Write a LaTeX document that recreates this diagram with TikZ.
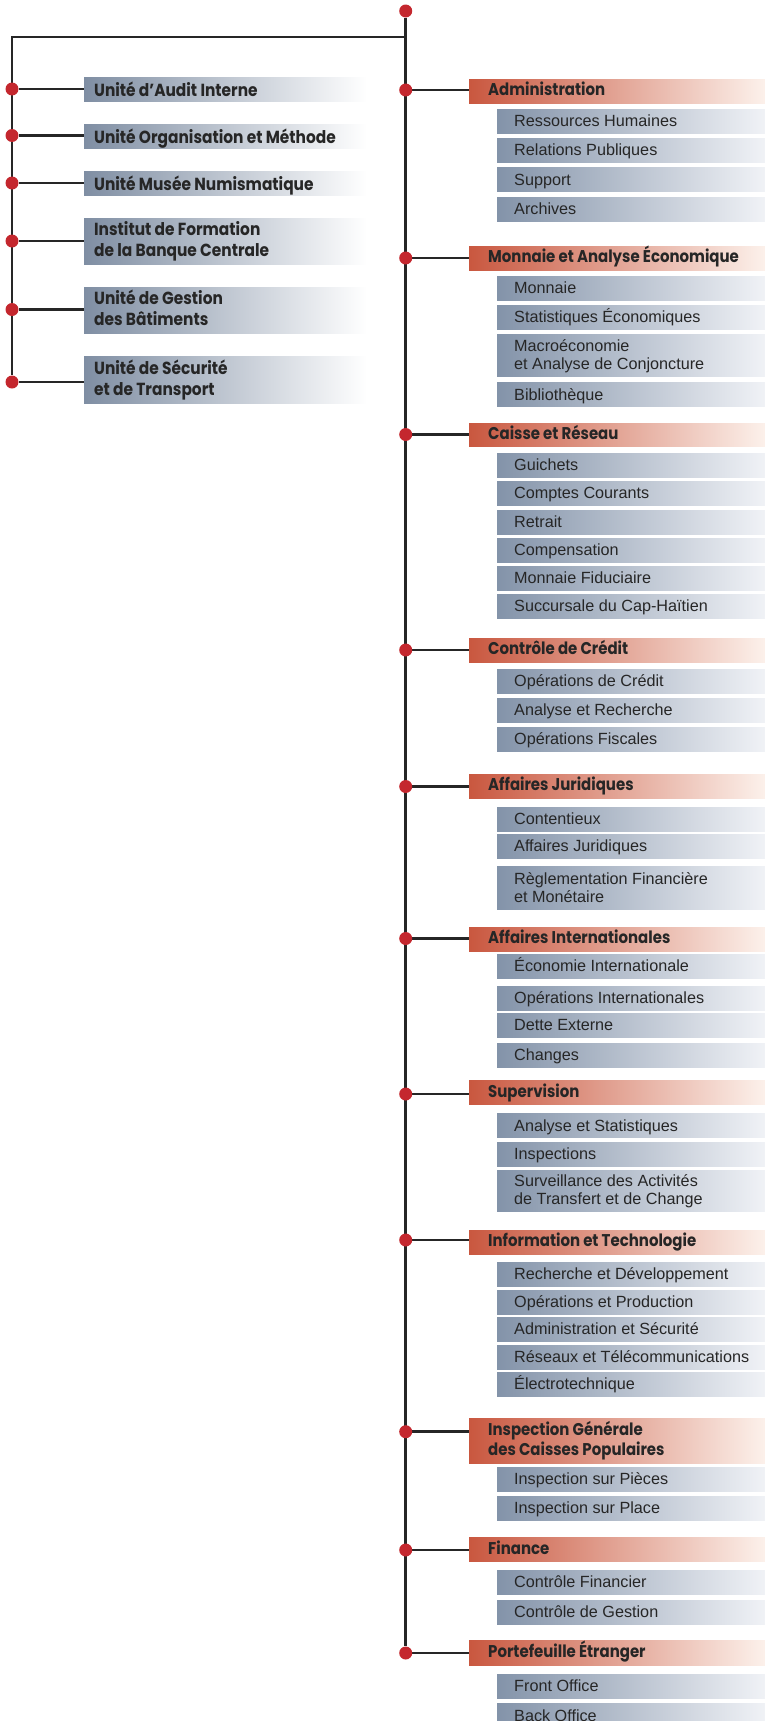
\documentclass[tikz,border=0pt]{standalone}
\usepackage{fontspec}
\setmainfont{Liberation Sans}
\newfontfamily\hdfont{Poppins}[FakeStretch=0.88]
\usetikzlibrary{backgrounds}
\definecolor{rL}{HTML}{C9573F}
\definecolor{rR}{HTML}{FCF1EB}
\definecolor{sL}{HTML}{8393A9}
\definecolor{sR}{HTML}{F0F2F6}
\definecolor{lL}{HTML}{7F8EA3}
\definecolor{dotred}{HTML}{C4272E}
\definecolor{ink}{HTML}{262626}
\definecolor{linec}{HTML}{262626}
\tikzset{
  box/.style={rectangle, draw=none, inner sep=0pt, outer sep=0pt, anchor=north west},
  redbox/.style={box, minimum width=296pt, left color=rL, right color=rR},
  subbox/.style={box, minimum width=268pt, left color=sL, right color=sR},
  leftbox/.style={box, minimum width=283pt, left color=lL, right color=white},
  hfont/.style={inner sep=0pt, align=left, text=ink, font=\hdfont\bfseries\fontsize{17}{20}\selectfont},
  lfont/.style={inner sep=0pt, align=left, text=ink, font=\hdfont\bfseries\fontsize{17.5}{20.5}\selectfont},
  sfont/.style={inner sep=0pt, align=left, text=ink, font=\fontsize{16.2}{18.3}\selectfont},
  htext/.style={hfont, anchor=west, text height=12.5pt, text depth=3.1pt},
  ltext/.style={lfont, anchor=west, text height=15pt, text depth=1pt},
  stext/.style={sfont, anchor=west, text height=13pt, text depth=1.8pt},
  dot/.style={circle, fill=dotred, draw=none, inner sep=0pt, minimum size=13pt},
  conn/.style={draw=linec, line width=2.6pt},
  thinconn/.style={draw=linec, line width=1.8pt},
}
% one-line header: #1 height, #2 name, #3 top, #4 dot y, #5 text
\newcommand{\myHead}[5][24]{%
  \node[redbox, minimum height=#1pt] (#2) at (469,#3) {};
  \node[htext] (t#2) at ([xshift=19pt]#2.west) {#5};
  \node[dot] (d#2) at (405.7,#4) {};
}
% two-line header
\newcommand{\myHeadII}[5][45]{%
  \node[redbox, minimum height=#1pt] (#2) at (469,#3) {};
  \node[hfont, anchor=base west] (t#2) at ([xshift=19pt,yshift=7.6pt]#2.south west) {#5};
  \node[dot] (d#2) at (405.7,#4) {};
}
% one-line sub: #1 height, #2 name, #3 top, #4 text
\newcommand{\mySub}[4][24]{%
  \node[subbox, minimum height=#1pt] (#2) at (497,#3) {};
  \node[stext] (t#2) at ([xshift=17pt]#2.west) {#4};
}
% two-line sub
\newcommand{\mySubII}[4][42.7]{%
  \node[subbox, minimum height=#1pt] (#2) at (497,#3) {};
  \node[sfont, anchor=base west] (t#2) at ([xshift=17pt,yshift=7.3pt]#2.south west) {#4};
}
% left unit one-line: #1 height, #2 name, #3 top, #4 dot y, #5 text
\newcommand{\myLeft}[5][24.5]{%
  \node[leftbox, minimum height=#1pt] (#2) at (84,#3) {};
  \node[ltext] (t#2) at ([xshift=10pt]#2.west) {#5};
  \node[dot] (d#2) at (12,#4) {};
}
% left unit two-line
\newcommand{\myLeftII}[5][46]{%
  \node[leftbox, minimum height=#1pt] (#2) at (84,#3) {};
  \node[lfont, anchor=base west] (t#2) at ([xshift=10pt,yshift=7.8pt]#2.south west) {#5};
  \node[dot] (d#2) at (12,#4) {};
}
\begin{document}
\begin{tikzpicture}[x=1pt,y=-1pt]
\useasboundingbox (0,0) rectangle (765,1721);
\clip (0,0) rectangle (765,1721);

% top
\node[dot] (dtop) at (405.7,11) {};
\coordinate (jt) at (405.7,37.3);
\coordinate (jl) at (12,37.3);

% left units
\myLeft{l1}{77}{89}{Unité d’Audit Interne}
\myLeft{l2}{124}{135.5}{Unité Organisation et Méthode}
\myLeft{l3}{171}{183}{Unité Musée Numismatique}
\myLeftII{l4}{218}{241}{Institut de Formation\\de la Banque Centrale}
\myLeftII{l5}{287}{309.5}{Unité de Gestion\\des Bâtiments}
\myLeftII[47]{l6}{356}{382}{Unité de Sécurité\\et de Transport}

% right departments
\myHead{h1}{79}{90}{Administration}
\mySub{s1a}{109}{Ressources Humaines}
\mySub{s1b}{138}{Relations Publiques}
\mySub{s1c}{167.7}{Support}
\mySub{s1d}{197}{Archives}

\myHead{h2}{246}{258}{Monnaie et Analyse Économique}
\mySub{s2a}{276}{Monnaie}
\mySub{s2b}{305}{Statistiques Économiques}
\mySubII{s2c}{334}{Macroéconomie\\et Analyse de Conjoncture}
\mySub{s2d}{382.7}{Bibliothèque}

\myHead[23.5]{h3}{423.3}{434.5}{Caisse et Réseau}
\mySub{s3a}{453}{Guichets}
\mySub{s3b}{481}{Comptes Courants}
\mySub{s3c}{510.3}{Retrait}
\mySub{s3d}{538.3}{Compensation}
\mySub{s3e}{566.3}{Monnaie Fiduciaire}
\mySub{s3f}{594.3}{Succursale du Cap-Haïtien}

\myHead{h4}{638}{650}{Contrôle de Crédit}
\mySub{s4a}{669.3}{Opérations de Crédit}
\mySub{s4b}{698.3}{Analyse et Recherche}
\mySub{s4c}{727.3}{Opérations Fiscales}

\myHead{h5}{774}{786.5}{Affaires Juridiques}
\mySub{s5a}{807}{Contentieux}
\mySub{s5b}{834.3}{Affaires Juridiques}
\mySubII[43.7]{s5c}{866}{Règlementation Financière\\et Monétaire}

\myHead{h6}{927}{938.5}{Affaires Internationales}
\mySub{s6a}{954.3}{Économie Internationale}
\mySub{s6b}{986}{Opérations Internationales}
\mySub{s6c}{1013}{Dette Externe}
\mySub{s6d}{1043}{Changes}

\myHead{h7}{1080.5}{1094}{Supervision}
\mySub{s7a}{1113.7}{Analyse et Statistiques}
\mySub{s7b}{1142}{Inspections}
\mySubII[41]{s7c}{1170.7}{Surveillance des Activités\\de Transfert et de Change}

\myHead{h8}{1230}{1240}{Information et Technologie}
\mySub{s8a}{1262}{Recherche et Développement}
\mySub{s8b}{1290}{Opérations et Production}
\mySub{s8c}{1317}{Administration et Sécurité}
\mySub{s8d}{1345}{Réseaux et Télécommunications}
\mySub{s8e}{1372.3}{Électrotechnique}

\myHeadII[45.3]{h9}{1418}{1431.7}{Inspection Générale\\des Caisses Populaires}
\mySub{s9a}{1467}{Inspection sur Pièces}
\mySub{s9b}{1496}{Inspection sur Place}

\myHead[24.7]{h10}{1537}{1550}{Finance}
\mySub{s10a}{1570}{Contrôle Financier}
\mySub{s10b}{1600}{Contrôle de Gestion}

\myHead[25.4]{h11}{1640.3}{1653}{Portefeuille Étranger}
\mySub{s11a}{1674}{Front Office}
\mySub{s11b}{1703.7}{Back Office}

\begin{pgfonlayer}{background}
  \draw[conn] (dtop) -- (dh11);
  \draw[thinconn] (jt) -- (jl) -- (dl6);
  \foreach \n in {h1,h2,h3,h4,h5,h6,h7,h8,h9,h10,h11,l1,l2,l3,l4,l5,l6}{
    \draw[conn] (d\n) -- (d\n -| \n.west);
  }
\end{pgfonlayer}
\end{tikzpicture}
\end{document}
